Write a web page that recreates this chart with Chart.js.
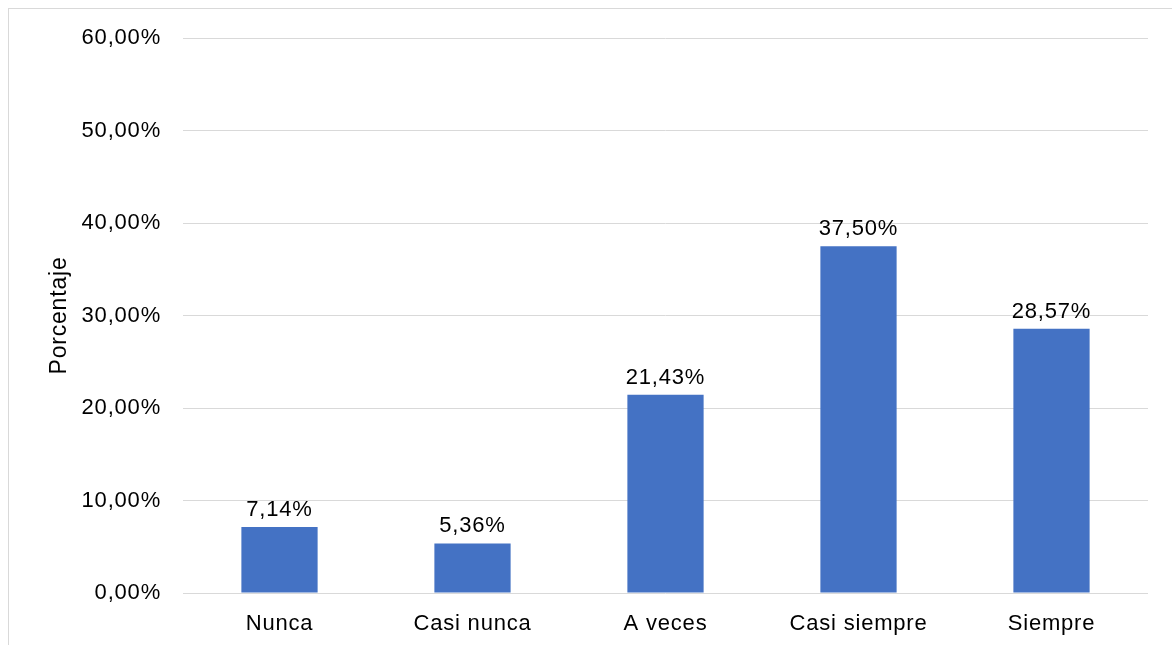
<!DOCTYPE html>
<html>
<head>
<meta charset="utf-8">
<script src="https://cdn.jsdelivr.net/npm/chart.js@4"></script>
<style>
  html, body { margin: 0; padding: 0; background: #fff; overflow: hidden; }
  #wrap { position: relative; width: 1172px; height: 645px; }
  #frame { position: absolute; left: 8px; top: 8px; width: 1200px; height: 700px; border: 1px solid #d9d9d9; box-sizing: border-box; }
  #chart { position: absolute; left: 0; top: 0; }
</style>
</head>
<body>
<div id="wrap">
  <div id="frame"></div>
  <canvas id="chart" width="1172" height="645"></canvas>
</div>
<script>
const categories = ['Nunca', 'Casi nunca', 'A veces', 'Casi siempre', 'Siempre'];
const percentages = [7.14, 5.36, 21.43, 37.50, 28.57];
const yTicks = [0, 10, 20, 30, 40, 50, 60];

const FONT = 'Arial, "Liberation Sans", sans-serif';

function fmt(v) {
    return v.toFixed(2).replace('.', ',') + '%';
}

// the original text is a bit spaced out, widen it a little
// (canvas resize resets the context, so set it again before each draw)
const spacing = {
    id: 'spacing',
    beforeUpdate(chart) { chart.ctx.letterSpacing = '0.8px'; },
    beforeDraw(chart) { chart.ctx.letterSpacing = '0.8px'; }
};

// draws the value above each bar
const valueLabels = {
    id: 'valueLabels',
    afterDatasetsDraw(chart) {
        const ctx = chart.ctx;
        const meta = chart.getDatasetMeta(0);
        ctx.save();
        ctx.font = '22px ' + FONT;
        ctx.fillStyle = '#000';
        ctx.textAlign = 'center';
        ctx.textBaseline = 'alphabetic';
        meta.data.forEach((bar, i) => {
            ctx.fillText(fmt(percentages[i]), bar.x, bar.y - 11);
        });
        ctx.restore();
    }
};

Chart.defaults.font.family = FONT;
Chart.defaults.color = '#000';

new Chart(document.getElementById('chart'), {
    type: 'bar',
    data: {
        labels: categories,
        datasets: [{
            data: percentages,
            backgroundColor: '#4472C4',
            barPercentage: 0.395,
            categoryPercentage: 1
        }]
    },
    options: {
        responsive: false,
        animation: false,
        layout: { padding: { top: 38, right: 24, left: 0, bottom: 0 } },
        plugins: {
            legend: { display: false },
            tooltip: { enabled: false }
        },
        scales: {
            x: {
                grid: { display: false },
                border: { display: false },
                ticks: { font: { size: 22 }, padding: 10 },
                afterFit(s) { s.height = 52; }
            },
            y: {
                min: 0,
                max: 60,
                afterBuildTicks(s) { s.ticks = yTicks.map(v => ({ value: v })); },
                ticks: {
                    font: { size: 22 },
                    padding: 22,
                    callback: v => fmt(v)
                },
                grid: { color: '#d9d9d9', lineWidth: 1, drawTicks: false },
                border: { display: false },
                title: {
                    display: true,
                    text: 'Porcentaje',
                    font: { size: 23 },
                    padding: { top: 46, bottom: 0 }
                },
                afterFit(s) { s.width = 183; }
            }
        }
    },
    plugins: [spacing, valueLabels]
});
</script>
</body>
</html>
